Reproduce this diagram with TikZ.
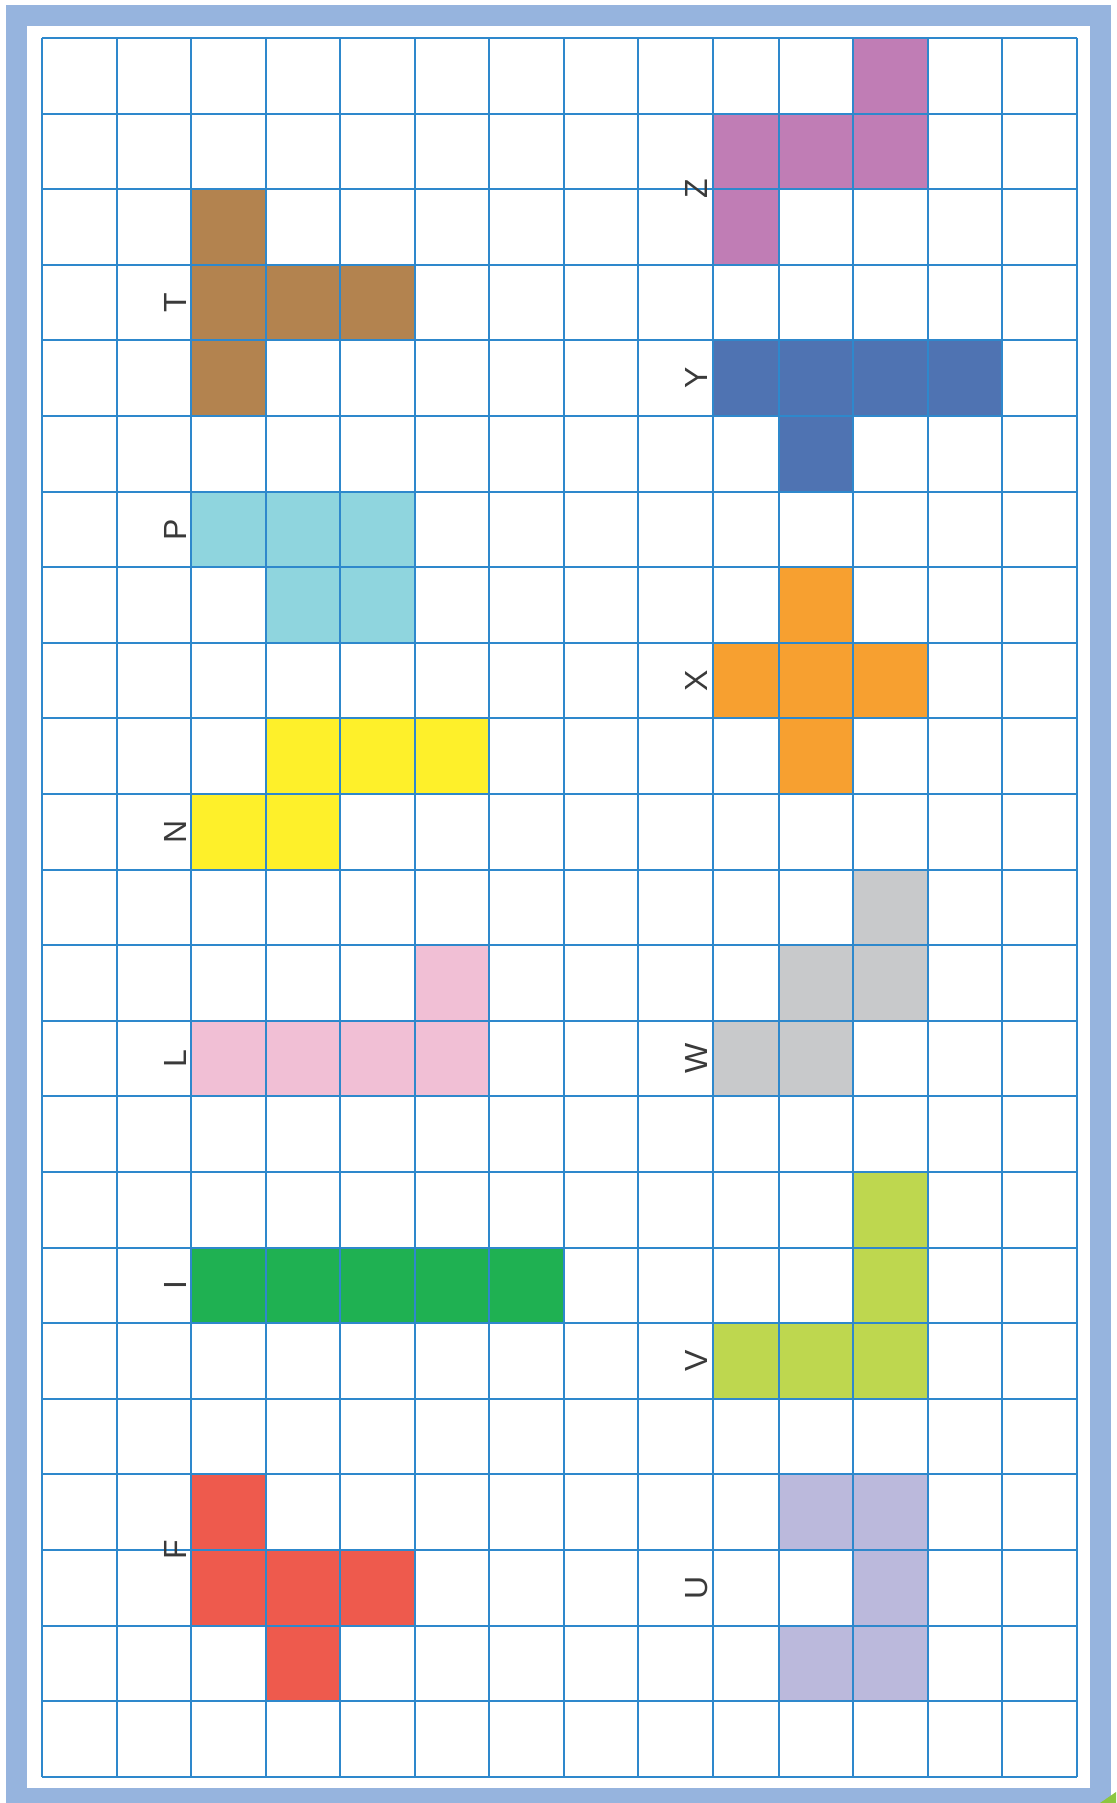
\documentclass[tikz,border=0pt]{standalone}
\usepackage{fontspec}
\setmainfont{Liberation Sans}
\definecolor{framecol}{HTML}{96B4DE}
\definecolor{gridcol}{HTML}{2E88CC}
\definecolor{cornergreen}{HTML}{8DC63F}
\definecolor{labelcol}{HTML}{3A3A3A}
\definecolor{pT}{HTML}{B3834F}
\definecolor{pP}{HTML}{8FD5DE}
\definecolor{pN}{HTML}{FEF02A}
\definecolor{pL}{HTML}{F1BFD5}
\definecolor{pI}{HTML}{1FB152}
\definecolor{pF}{HTML}{EE5A4D}
\definecolor{pZ}{HTML}{C07DB5}
\definecolor{pY}{HTML}{4F73B2}
\definecolor{pX}{HTML}{F7A030}
\definecolor{pW}{HTML}{C8C9CB}
\definecolor{pV}{HTML}{BED74F}
\definecolor{pU}{HTML}{BBB9DC}
\newcommand\cellbox[3]{%
  \pgfmathsetmacro\xa{42+74.5*#1-8.5*(#1>9)}%
  \pgfmathsetmacro\xb{42+74.5*(#1+1)-8.5*((#1+1)>9)}%
  \pgfmathsetmacro\ya{38+75.6*#2}%
  \pgfmathsetmacro\yb{38+75.6*(#2+1)}%
  \fill[#3] (\xa,\ya) rectangle (\xb,\yb);}
\begin{document}
\begin{tikzpicture}[x=0.5pt,y=-0.5pt,
  lbl/.style={rotate=90,anchor=base,inner sep=0pt,text=labelcol,font=\fontsize{16}{16}\selectfont},
  gridline/.style={draw=gridcol,line width=1pt}]
\useasboundingbox (0,0) rectangle (1116,1803);
\clip (0,0) rectangle (1116,1803);
\fill[white] (0,0) rectangle (1116,1803);
% frame
\draw[framecol,line width=10.5pt] (16.5,15.5) rectangle (1100.5,1798.5);
\fill[cornergreen] (1100,1803) -- (1116,1792) -- (1116,1803) -- cycle;
% pieces, left column
\foreach \c/\r in {2/2,2/3,3/3,4/3,2/4} {\cellbox{\c}{\r}{pT}}
\foreach \c/\r in {2/6,3/6,4/6,3/7,4/7} {\cellbox{\c}{\r}{pP}}
\foreach \c/\r in {3/9,4/9,5/9,2/10,3/10} {\cellbox{\c}{\r}{pN}}
\foreach \c/\r in {5/12,2/13,3/13,4/13,5/13} {\cellbox{\c}{\r}{pL}}
\foreach \c/\r in {2/16,3/16,4/16,5/16,6/16} {\cellbox{\c}{\r}{pI}}
\foreach \c/\r in {2/19,2/20,3/20,4/20,3/21} {\cellbox{\c}{\r}{pF}}
% pieces, right column
\foreach \c/\r in {11/0,9/1,10/1,11/1,9/2} {\cellbox{\c}{\r}{pZ}}
\foreach \c/\r in {9/4,10/4,11/4,12/4,10/5} {\cellbox{\c}{\r}{pY}}
\foreach \c/\r in {10/7,9/8,10/8,11/8,10/9} {\cellbox{\c}{\r}{pX}}
\foreach \c/\r in {11/11,10/12,11/12,9/13,10/13} {\cellbox{\c}{\r}{pW}}
\foreach \c/\r in {11/15,11/16,9/17,10/17,11/17} {\cellbox{\c}{\r}{pV}}
\foreach \c/\r in {10/19,11/19,11/20,10/21,11/21} {\cellbox{\c}{\r}{pU}}
% grid
\foreach \c in {0,...,14} {
  \pgfmathsetmacro\xx{42+74.5*\c-8.5*(\c>9)}
  \draw[gridline] (\xx,38) -- (\xx,1776.8);
}
\foreach \r in {0,...,23} {
  \pgfmathsetmacro\yy{38+75.6*\r}
  \draw[gridline] (42,\yy) -- (1076.5,\yy);
}
% labels
\node[lbl] (lT) at (186,302.6) {T};
\node[lbl] (lP) at (186,529.4) {P};
\node[lbl] (lN) at (186,831.8) {N};
\node[lbl] (lL) at (186,1058.6) {L};
\node[lbl] (lI) at (186,1285.4) {I};
\node[lbl] (lF) at (186,1550) {F};
\node[lbl] (lZ) at (707,189.2) {Z};
\node[lbl] (lY) at (707,378.2) {Y};
\node[lbl] (lX) at (707,680.6) {X};
\node[lbl] (lW) at (707,1058.6) {W};
\node[lbl] (lV) at (707,1361) {V};
\node[lbl] (lU) at (707,1587.8) {U};
\end{tikzpicture}
\end{document}
